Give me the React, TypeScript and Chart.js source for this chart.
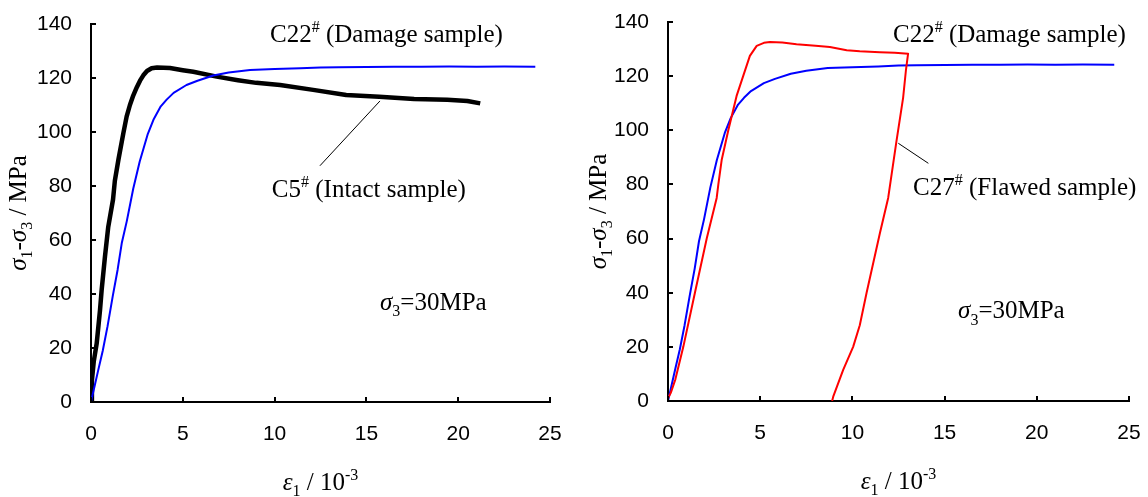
import React, { useEffect, useRef } from "react";
import { Chart, registerables } from "chart.js";

Chart.register(...registerables);

// ---------- data ----------
const X_TICKS = [0, 5, 10, 15, 20, 25];
const Y_TICKS = [0, 20, 40, 60, 80, 100, 120, 140];

// C22# (Damage sample) – blue, shown in both panels
const c22Strain = [0, 0.1, 0.2, 0.4, 0.64, 0.9, 1.18, 1.45, 1.68, 1.95, 2.3, 2.65, 3.08, 3.4, 3.8, 4.12, 4.5, 5.2, 5.8, 6.66, 7.5, 8.66, 10.0, 11.4, 12.5, 13.5, 15.0, 16.5, 18.0, 19.5, 21.0, 22.5, 24.2];
const c22Stress = [0, 3, 6, 12, 19, 28, 39, 49, 59, 67, 79, 89, 99, 104.5, 109.5, 112, 114.5, 117.4, 119, 120.9, 122, 123, 123.3, 123.6, 123.9, 124, 124.1, 124.2, 124.2, 124.3, 124.2, 124.3, 124.2];

// C5# (Intact sample) – black, left panel
const c5Strain = [0, 0.05, 0.15, 0.31, 0.49, 0.58, 0.76, 0.94, 1.2, 1.3, 1.5, 1.76, 1.94, 2.12, 2.3, 2.49, 2.67, 2.85, 3.05, 3.3, 3.6, 4.3, 5.0, 5.57, 6.85, 8.0, 9.0, 10.3, 12.1, 13.9, 15.7, 17.6, 19.4, 20.5, 21.2];
const c5Stress = [0, 8, 15, 21.7, 34, 41.5, 53.8, 64.9, 75, 82, 90, 99.5, 105.7, 110, 113.5, 116.5, 119, 121, 122.6, 123.6, 123.9, 123.7, 122.9, 122.3, 120.5, 119.2, 118.2, 117.4, 115.6, 113.7, 113.1, 112.2, 111.9, 111.5, 110.6];

// C27# (Flawed sample) – red, right panel (loading then unloading)
const c27Strain = [0, 0.15, 0.4, 0.83, 1.46, 2.1, 2.64, 2.73, 2.91, 3.27, 3.72, 4.08, 4.44, 4.81, 5.2, 5.53, 6.2, 6.97, 8.0, 8.78, 9.69, 10.4, 11.49, 12.3, 13.02, 12.9, 12.75, 12.39, 11.94, 11.49, 10.77, 10.4, 10.04, 9.5, 8.96, 8.9];
const c27Stress = [1, 3, 8, 20, 40, 60, 75, 80, 89, 100, 112.7, 120.1, 127.5, 131.2, 132.3, 132.6, 132.4, 131.8, 131.2, 130.8, 129.6, 129.2, 128.8, 128.6, 128.3, 122, 112, 96, 75, 62, 40, 28, 20, 11.5, 1.6, 0];

// ---------- helpers ----------
const SERIF = '"Liberation Serif", "Times New Roman", serif';
const SANS = '"Liberation Sans", Arial, sans-serif';

type Run = { t: string; it?: boolean; sub?: boolean; sup?: boolean };
type Label = { runs: Run[]; x: number; y: number };

const toPoints = (xs: number[], ys: number[]) => xs.map((x, i) => ({ x, y: ys[i] }));

function runFont(r: Run, size: number) {
  const s = r.sub || r.sup ? Math.round(size * 0.62) : size;
  return `${r.it ? "italic " : ""}${s}px ${SERIF}`;
}

function drawRich(ctx: CanvasRenderingContext2D, runs: Run[], x: number, y: number, size: number, align: "left" | "center") {
  ctx.save();
  let w = 0;
  for (const r of runs) {
    ctx.font = runFont(r, size);
    w += ctx.measureText(r.t).width;
  }
  let cx = align === "center" ? x - w / 2 : x;
  ctx.textBaseline = "alphabetic";
  ctx.textAlign = "left";
  ctx.fillStyle = "#000";
  for (const r of runs) {
    ctx.font = runFont(r, size);
    const dy = r.sub ? size * 0.25 : r.sup ? -size * 0.4 : 0;
    ctx.fillText(r.t, cx, y + dy);
    cx += ctx.measureText(r.t).width;
  }
  ctx.restore();
}

const Y_TITLE: Run[] = [
  { t: "σ", it: true }, { t: "1", sub: true }, { t: "-" }, { t: "σ", it: true }, { t: "3", sub: true }, { t: " / MPa" },
];
const X_TITLE: Run[] = [{ t: "ε", it: true }, { t: "1", sub: true }, { t: " / 10" }, { t: "-3", sup: true }];
const SIGMA3: Run[] = [{ t: "σ", it: true }, { t: "3", sub: true }, { t: "=30MPa" }];

type PanelCfg = {
  datasets: { data: { x: number; y: number }[]; color: string; width: number }[];
  labels: Label[];
  leader: [number, number, number, number];
  yw: number;
  xh: number;
  padR: number;
  padT: number;
  yTitleOff: number;
};

const TEXT_SIZE = 25;

function makePlugin(cfg: PanelCfg) {
  return {
    id: "decor",
    afterDraw(chart: any) {
      const { ctx, chartArea: a } = chart;
      const xs = chart.scales.x;
      const ys = chart.scales.y;
      ctx.save();
      ctx.strokeStyle = "#000";
      ctx.lineWidth = 2;
      for (const v of X_TICKS) {
        const px = Math.round(xs.getPixelForValue(v));
        ctx.beginPath();
        ctx.moveTo(px, a.bottom);
        ctx.lineTo(px, a.bottom - 5);
        ctx.stroke();
      }
      for (const v of Y_TICKS) {
        const py = Math.round(ys.getPixelForValue(v));
        ctx.beginPath();
        ctx.moveTo(a.left, py);
        ctx.lineTo(a.left + 5, py);
        ctx.stroke();
      }
      // leader line
      const [x1, y1, x2, y2] = cfg.leader;
      ctx.lineWidth = 1;
      ctx.beginPath();
      ctx.moveTo(xs.getPixelForValue(x1), ys.getPixelForValue(y1));
      ctx.lineTo(xs.getPixelForValue(x2), ys.getPixelForValue(y2));
      ctx.stroke();
      // annotations
      for (const l of cfg.labels) {
        drawRich(ctx, l.runs, xs.getPixelForValue(l.x), ys.getPixelForValue(l.y), TEXT_SIZE, "left");
      }
      // axis titles
      drawRich(ctx, X_TITLE, (a.left + a.right) / 2, a.bottom + 88, TEXT_SIZE, "center");
      ctx.save();
      ctx.translate(a.left + cfg.yTitleOff, (a.top + a.bottom) / 2);
      ctx.rotate(-Math.PI / 2);
      drawRich(ctx, Y_TITLE, 0, 0, TEXT_SIZE, "center");
      ctx.restore();
      ctx.restore();
    },
  };
}

function Panel({ cfg, left }: { cfg: PanelCfg; left: number }) {
  const ref = useRef<HTMLCanvasElement | null>(null);
  useEffect(() => {
    if (!ref.current) return;
    const chart = new Chart(ref.current, {
      type: "scatter",
      data: {
        datasets: cfg.datasets.map((d) => ({
          data: d.data,
          showLine: true,
          borderColor: d.color,
          backgroundColor: d.color,
          borderWidth: d.width,
          borderJoinStyle: "round",
          pointRadius: 0,
          tension: 0,
          fill: false,
        })),
      },
      options: {
        responsive: false,
        animation: false,
        devicePixelRatio: 1,
        events: [],
        layout: { padding: { left: 0, right: cfg.padR, top: cfg.padT, bottom: 0 } },
        plugins: { legend: { display: false }, tooltip: { enabled: false } },
        scales: {
          x: {
            type: "linear",
            min: 0,
            max: 25,
            afterBuildTicks: (s: any) => {
              s.ticks = X_TICKS.map((v) => ({ value: v }));
            },
            afterFit: (s: any) => {
              s.height = cfg.xh;
              s.paddingLeft = 0;
              s.paddingRight = 0;
              s.paddingTop = 0;
              s.paddingBottom = 0;
            },
            ticks: { color: "#000", font: { family: SANS, size: 21 }, padding: 20, maxRotation: 0, autoSkip: false },
            grid: { display: false, drawTicks: false },
            border: { display: true, color: "#000", width: 2 },
          },
          y: {
            type: "linear",
            min: 0,
            max: 140,
            afterBuildTicks: (s: any) => {
              s.ticks = Y_TICKS.map((v) => ({ value: v }));
            },
            afterFit: (s: any) => {
              s.width = cfg.yw;
              s.paddingLeft = 0;
              s.paddingRight = 0;
              s.paddingTop = 0;
              s.paddingBottom = 0;
            },
            ticks: { color: "#000", font: { family: SANS, size: 21 }, padding: 19, autoSkip: false },
            grid: { display: false, drawTicks: false },
            border: { display: true, color: "#000", width: 2 },
          },
        },
      } as any,
      plugins: [makePlugin(cfg)],
    });
    return () => chart.destroy();
  }, [cfg]);
  return (
    <canvas
      ref={ref}
      width={574}
      height={497}
      style={{ position: "absolute", left, top: 0, width: 574, height: 497 }}
    />
  );
}

const LEFT_CFG: PanelCfg = {
  datasets: [
    { data: toPoints(c22Strain, c22Stress), color: "#0000ff", width: 2 },
    { data: toPoints(c5Strain, c5Stress), color: "#000000", width: 4.5 },
  ],
  labels: [
    { runs: [{ t: "C22" }, { t: "#", sup: true }, { t: " (Damage sample)" }], x: 9.75, y: 133.3 },
    { runs: [{ t: "C5" }, { t: "#", sup: true }, { t: " (Intact sample)" }], x: 9.85, y: 75.9 },
    { runs: SIGMA3, x: 15.74, y: 34.1 },
  ],
  leader: [12.47, 87.5, 15.74, 111.5],
  yw: 91,
  xh: 95,
  padR: 24,
  padT: 24,
  yTitleOff: -65,
};

const RIGHT_CFG: PanelCfg = {
  datasets: [
    { data: toPoints(c27Strain, c27Stress), color: "#ff0000", width: 2 },
    { data: toPoints(c22Strain, c22Stress), color: "#0000ff", width: 2 },
  ],
  labels: [
    { runs: [{ t: "C22" }, { t: "#", sup: true }, { t: " (Damage sample)" }], x: 12.2, y: 132.7 },
    { runs: [{ t: "C27" }, { t: "#", sup: true }, { t: " (Flawed sample)" }], x: 13.29, y: 76.1 },
    { runs: SIGMA3, x: 15.73, y: 30.5 },
  ],
  leader: [12.49, 95.2, 14.12, 87.8],
  yw: 94,
  xh: 96,
  padR: 19,
  padT: 22,
  yTitleOff: -62,
};

export default function App() {
  return (
    <div style={{ position: "absolute", left: 0, top: 0, width: 1148, height: 497, background: "#fff" }}>
      <Panel cfg={LEFT_CFG} left={0} />
      <Panel cfg={RIGHT_CFG} left={574} />
    </div>
  );
}
